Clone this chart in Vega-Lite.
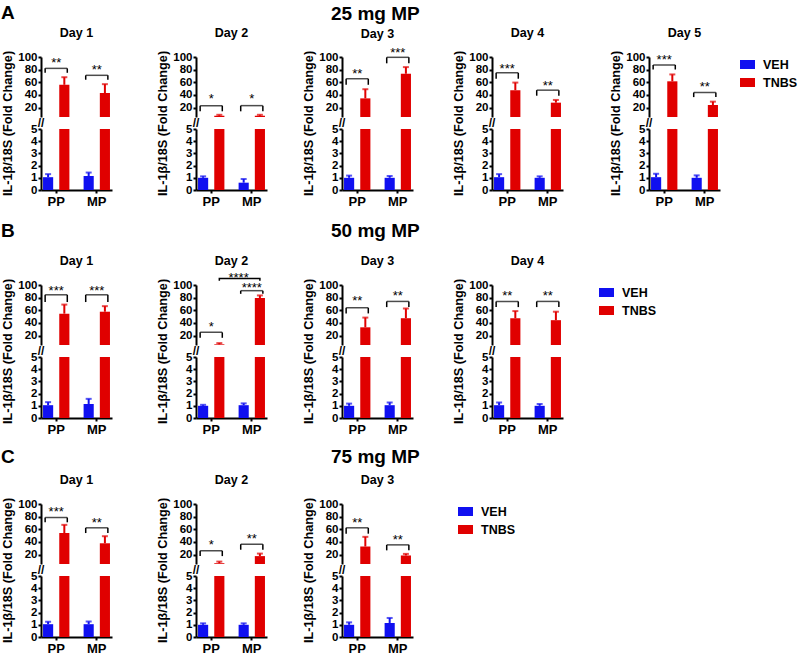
{
"$schema":"https://vega.github.io/schema/vega-lite/v6.json",
"padding":{"left":0,"top":3,"right":0,"bottom":0},
"config":{
 "font":"Liberation Sans",
 "view":{"stroke":null},
 "range":{"category":["#1010f0","#e00000"]},
 "scale":{"bandPaddingInner":0.35,"barBandPaddingInner":0.35,"bandPaddingOuter":0.05,"bandWithNestedOffsetPaddingInner":0.35,"bandWithNestedOffsetPaddingOuter":0.05,"offsetBandPaddingInner":0.375,"offsetBandPaddingOuter":0},
 "axis":{"domainColor":"black","domainWidth":2,"tickColor":"black","tickWidth":2,"tickSize":3,"labelFontSize":11.5,"labelFontWeight":"bold","labelColor":"black","labelOverlap":false,"labelPadding":1,"titleFontSize":12.7,"titleFontWeight":"bold","titleColor":"black","grid":false},
 "axisX":{"labelFontSize":13,"labelPadding":2},
 "title":{"fontSize":12.5,"fontWeight":"bold","color":"black","offset":12,"frame":"group"},
 "legend":{"symbolType":"M-1,-0.6H1V0.6H-1Z","symbolSize":225,"symbolStrokeWidth":0,"labelFontSize":12.5,"labelFontWeight":"bold","labelColor":"black","padding":0,"rowPadding":4,"labelOffset":8}
},
"datasets":{
 "bars":[
  {"p":"A1","c":"PP","g":"VEH","v":1.05,"hi":1.3},{"p":"A1","c":"PP","g":"TNBS","v":56,"hi":68},{"p":"A1","c":"MP","g":"VEH","v":1.15,"hi":1.43},{"p":"A1","c":"MP","g":"TNBS","v":43,"hi":57},
  {"p":"A2","c":"PP","g":"VEH","v":1.0,"hi":1.12},{"p":"A2","c":"PP","g":"TNBS","v":7,"hi":8.5},{"p":"A2","c":"MP","g":"VEH","v":0.6,"hi":0.9},{"p":"A2","c":"MP","g":"TNBS","v":7,"hi":8.5},
  {"p":"A3","c":"PP","g":"VEH","v":1.0,"hi":1.18},{"p":"A3","c":"PP","g":"TNBS","v":34.5,"hi":49},{"p":"A3","c":"MP","g":"VEH","v":1.0,"hi":1.15},{"p":"A3","c":"MP","g":"TNBS","v":73.5,"hi":84},
  {"p":"A4","c":"PP","g":"VEH","v":1.05,"hi":1.3},{"p":"A4","c":"PP","g":"TNBS","v":47.5,"hi":59.5},{"p":"A4","c":"MP","g":"VEH","v":1.0,"hi":1.12},{"p":"A4","c":"MP","g":"TNBS","v":27.7,"hi":32},
  {"p":"A5","c":"PP","g":"VEH","v":1.05,"hi":1.33},{"p":"A5","c":"PP","g":"TNBS","v":61.5,"hi":72.4},{"p":"A5","c":"MP","g":"VEH","v":1.0,"hi":1.2},{"p":"A5","c":"MP","g":"TNBS","v":24,"hi":29.3},
  {"p":"B1","c":"PP","g":"VEH","v":1.05,"hi":1.3},{"p":"B1","c":"PP","g":"TNBS","v":54.6,"hi":69},{"p":"B1","c":"MP","g":"VEH","v":1.15,"hi":1.57},{"p":"B1","c":"MP","g":"TNBS","v":57.7,"hi":66.5},
  {"p":"B2","c":"PP","g":"VEH","v":1.0,"hi":1.08},{"p":"B2","c":"PP","g":"TNBS","v":6,"hi":8},{"p":"B2","c":"MP","g":"VEH","v":1.05,"hi":1.2},{"p":"B2","c":"MP","g":"TNBS","v":79.4,"hi":83.5},
  {"p":"B3","c":"PP","g":"VEH","v":1.0,"hi":1.18},{"p":"B3","c":"PP","g":"TNBS","v":33,"hi":48.4},{"p":"B3","c":"MP","g":"VEH","v":1.05,"hi":1.27},{"p":"B3","c":"MP","g":"TNBS","v":47.4,"hi":62.8},
  {"p":"B4","c":"PP","g":"VEH","v":1.05,"hi":1.27},{"p":"B4","c":"PP","g":"TNBS","v":47.4,"hi":58.7},{"p":"B4","c":"MP","g":"VEH","v":1.0,"hi":1.15},{"p":"B4","c":"MP","g":"TNBS","v":44.3,"hi":57.7},
  {"p":"C1","c":"PP","g":"VEH","v":1.05,"hi":1.25},{"p":"C1","c":"PP","g":"TNBS","v":54,"hi":67},{"p":"C1","c":"MP","g":"VEH","v":1.05,"hi":1.27},{"p":"C1","c":"MP","g":"TNBS","v":37.8,"hi":49},
  {"p":"C2","c":"PP","g":"VEH","v":1.0,"hi":1.12},{"p":"C2","c":"PP","g":"TNBS","v":6.2,"hi":8.8},{"p":"C2","c":"MP","g":"VEH","v":1.0,"hi":1.12},{"p":"C2","c":"MP","g":"TNBS","v":17.5,"hi":21.5},
  {"p":"C3","c":"PP","g":"VEH","v":1.0,"hi":1.2},{"p":"C3","c":"PP","g":"TNBS","v":32.7,"hi":48},{"p":"C3","c":"MP","g":"VEH","v":1.15,"hi":1.56},{"p":"C3","c":"MP","g":"TNBS","v":18.5,"hi":21}
 ],
 "br":[
  {"p":"A1","c":"PP","lo":75,"hi":82,"s":95.8,"t":"**"},{"p":"A1","c":"MP","lo":64,"hi":71,"s":84.9,"t":"**"},
  {"p":"A2","c":"PP","lo":14,"hi":23,"s":38.6,"t":"*"},{"p":"A2","c":"MP","lo":14,"hi":23,"s":38.6,"t":"*"},
  {"p":"A3","c":"PP","lo":56,"hi":65.6,"s":77.6,"t":"**"},{"p":"A3","c":"MP","lo":90,"hi":99.5,"s":111,"t":"***"},
  {"p":"A4","c":"PP","lo":65.6,"hi":75,"s":86,"t":"***"},{"p":"A4","c":"MP","lo":38.7,"hi":47.5,"s":58.4,"t":"**"},
  {"p":"A5","c":"PP","lo":80.2,"hi":87.5,"s":100,"t":"***"},{"p":"A5","c":"MP","lo":36.5,"hi":43.8,"s":57.4,"t":"**"},
  {"p":"B1","c":"PP","lo":73,"hi":84.5,"s":95.9,"t":"***"},{"p":"B1","c":"MP","lo":73,"hi":84.5,"s":95.9,"t":"***"},
  {"p":"B2","c":"PP","lo":16.4,"hi":25,"s":39,"t":"*"},{"p":"B2","c":"MP","lo":86,"hi":91,"s":100,"t":"****"},
  {"p":"B3","c":"PP","lo":55,"hi":64,"s":78.8,"t":"**"},{"p":"B3","c":"MP","lo":65,"hi":74,"s":87.6,"t":"**"},
  {"p":"B4","c":"PP","lo":65,"hi":74,"s":86.6,"t":"**"},{"p":"B4","c":"MP","lo":65,"hi":74,"s":86.6,"t":"**"},
  {"p":"C1","c":"PP","lo":71,"hi":78.6,"s":92.4,"t":"***"},{"p":"C1","c":"MP","lo":54,"hi":62.3,"s":75,"t":"**"},
  {"p":"C2","c":"PP","lo":17.5,"hi":26,"s":39.4,"t":"*"},{"p":"C2","c":"MP","lo":27.6,"hi":36.3,"s":49.6,"t":"**"},
  {"p":"C3","c":"PP","lo":53,"hi":62.3,"s":75,"t":"**"},{"p":"C3","c":"MP","lo":26.6,"hi":35.3,"s":48,"t":"**"}
 ],
 "brk":[{"c":"PP","hi":5}]
},
"spacing":13,
"resolve":{"legend":{"color":"independent"}},
"vconcat":[
{"hconcat":[
 {"hconcat":[
 {"title":{"text":"A","fontSize":19,"anchor":"start","frame":"bounds","offset":4},"bounds":"flush","spacing":12,"resolve":{"legend":{"color":"independent"}},"vconcat":[
  {"width":71,"height":60,"title":{"text":"Day 1"},"layer":[
   {"data":{"name":"bars"},"transform":[{"filter":"datum.p=='A1'"}],"encoding":{"x":{"field":"c","type":"nominal","sort":"descending","axis":null},"xOffset":{"field":"g","type":"nominal","sort":"descending"},"y":{"field":"v","type":"quantitative","scale":{"domain":[5,100],"nice":false,"zero":false},"axis":{"values":[20,40,60,80,100],"title":null}},"color":{"field":"g","type":"nominal","sort":"descending","legend":null}},"layer":[
    {"mark":{"type":"bar","clip":true}},
    {"mark":{"type":"rule","clip":true,"strokeWidth":2},"encoding":{"y2":{"field":"hi"}}},
    {"mark":{"type":"tick","clip":true,"thickness":2},"encoding":{"y":{"field":"hi","type":"quantitative","axis":{"values":[20,40,60,80,100],"title":null}},"size":{"value":6}}}]},
   {"data":{"name":"br"},"transform":[{"filter":"datum.p=='A1'"}],"encoding":{"x":{"field":"c","type":"nominal","sort":"descending","axis":null},"y":{"field":"hi","type":"quantitative","axis":{"values":[20,40,60,80,100],"title":null}},"color":{"value":"black"}},"layer":[
    {"mark":{"type":"tick","thickness":1.5},"encoding":{"size":{"value":22}}},
    {"mark":{"type":"rule","strokeWidth":1.5},"encoding":{"x":{"field":"c","type":"nominal","sort":"descending","bandPosition":0.08,"axis":null},"y2":{"field":"lo"}}},
    {"mark":{"type":"rule","strokeWidth":1.5},"encoding":{"x":{"field":"c","type":"nominal","sort":"descending","bandPosition":0.92,"axis":null},"y2":{"field":"lo"}}},
    {"mark":{"type":"text","fontSize":13,"baseline":"middle","dy":3},"encoding":{"y":{"field":"s","type":"quantitative","axis":{"values":[20,40,60,80,100],"title":null}},"text":{"field":"t"}}},
    {"data":{"name":"brk"},"mark":{"type":"text","text":"//","fontSize":12,"fontWeight":"bold","baseline":"middle","dx":-2,"dy":6},"encoding":{"x":{"field":"c","type":"nominal","sort":"descending","bandPosition":0,"axis":null}}}]}
  ]},
  {"width":71,"height":61,"data":{"name":"bars"},"transform":[{"filter":"datum.p=='A1'"}],"encoding":{"x":{"field":"c","type":"nominal","sort":"descending","axis":{"title":null,"labelAngle":0}},"xOffset":{"field":"g","type":"nominal","sort":"descending"},"y":{"field":"v","type":"quantitative","scale":{"domain":[0,5],"nice":false},"axis":{"values":[0,1,2,3,4,5],"title":"IL-1β/18S (Fold Change)","titleX":-27,"titleY":-6}},"color":{"field":"g","type":"nominal","sort":"descending","legend":null}},"layer":[
    {"mark":{"type":"bar","clip":true}},
    {"mark":{"type":"rule","clip":true,"strokeWidth":2},"encoding":{"y2":{"field":"hi"}}},
    {"mark":{"type":"tick","clip":true,"thickness":2},"encoding":{"y":{"field":"hi","type":"quantitative","axis":{"values":[0,1,2,3,4,5],"title":"IL-1β/18S (Fold Change)","titleX":-27,"titleY":-6}},"size":{"value":6}}}]}
 ]},
 {"title":{"text":" ","fontSize":19,"offset":4,"frame":"bounds"},"bounds":"flush","spacing":12,"resolve":{"legend":{"color":"independent"}},"vconcat":[
  {"width":71,"height":60,"title":{"text":"Day 2"},"layer":[
   {"data":{"name":"bars"},"transform":[{"filter":"datum.p=='A2'"}],"encoding":{"x":{"field":"c","type":"nominal","sort":"descending","axis":null},"xOffset":{"field":"g","type":"nominal","sort":"descending"},"y":{"field":"v","type":"quantitative","scale":{"domain":[5,100],"nice":false,"zero":false},"axis":{"values":[20,40,60,80,100],"title":null}},"color":{"field":"g","type":"nominal","sort":"descending","legend":null}},"layer":[
    {"mark":{"type":"bar","clip":true}},
    {"mark":{"type":"rule","clip":true,"strokeWidth":2},"encoding":{"y2":{"field":"hi"}}},
    {"mark":{"type":"tick","clip":true,"thickness":2},"encoding":{"y":{"field":"hi","type":"quantitative","axis":{"values":[20,40,60,80,100],"title":null}},"size":{"value":6}}}]},
   {"data":{"name":"br"},"transform":[{"filter":"datum.p=='A2'"}],"encoding":{"x":{"field":"c","type":"nominal","sort":"descending","axis":null},"y":{"field":"hi","type":"quantitative","axis":{"values":[20,40,60,80,100],"title":null}},"color":{"value":"black"}},"layer":[
    {"mark":{"type":"tick","thickness":1.5},"encoding":{"size":{"value":22}}},
    {"mark":{"type":"rule","strokeWidth":1.5},"encoding":{"x":{"field":"c","type":"nominal","sort":"descending","bandPosition":0.08,"axis":null},"y2":{"field":"lo"}}},
    {"mark":{"type":"rule","strokeWidth":1.5},"encoding":{"x":{"field":"c","type":"nominal","sort":"descending","bandPosition":0.92,"axis":null},"y2":{"field":"lo"}}},
    {"mark":{"type":"text","fontSize":13,"baseline":"middle","dy":3},"encoding":{"y":{"field":"s","type":"quantitative","axis":{"values":[20,40,60,80,100],"title":null}},"text":{"field":"t"}}},
    {"data":{"name":"brk"},"mark":{"type":"text","text":"//","fontSize":12,"fontWeight":"bold","baseline":"middle","dx":-2,"dy":6},"encoding":{"x":{"field":"c","type":"nominal","sort":"descending","bandPosition":0,"axis":null}}}]}
  ]},
  {"width":71,"height":61,"data":{"name":"bars"},"transform":[{"filter":"datum.p=='A2'"}],"encoding":{"x":{"field":"c","type":"nominal","sort":"descending","axis":{"title":null,"labelAngle":0}},"xOffset":{"field":"g","type":"nominal","sort":"descending"},"y":{"field":"v","type":"quantitative","scale":{"domain":[0,5],"nice":false},"axis":{"values":[0,1,2,3,4,5],"title":"IL-1β/18S (Fold Change)","titleX":-27,"titleY":-6}},"color":{"field":"g","type":"nominal","sort":"descending","legend":null}},"layer":[
    {"mark":{"type":"bar","clip":true}},
    {"mark":{"type":"rule","clip":true,"strokeWidth":2},"encoding":{"y2":{"field":"hi"}}},
    {"mark":{"type":"tick","clip":true,"thickness":2},"encoding":{"y":{"field":"hi","type":"quantitative","axis":{"values":[0,1,2,3,4,5],"title":"IL-1β/18S (Fold Change)","titleX":-27,"titleY":-6}},"size":{"value":6}}}]}
 ]}
 ],"spacing":43,"resolve":{"legend":{"color":"independent"}}},
 {"hconcat":[
 {"title":{"text":"25 mg MP","fontSize":19,"offset":4,"frame":"bounds","anchor":"start","dx":29},"bounds":"flush","spacing":12,"resolve":{"legend":{"color":"independent"}},"vconcat":[
  {"width":71,"height":60,"title":{"text":"Day 3","offset":7},"layer":[
   {"data":{"name":"bars"},"transform":[{"filter":"datum.p=='A3'"}],"encoding":{"x":{"field":"c","type":"nominal","sort":"descending","axis":null},"xOffset":{"field":"g","type":"nominal","sort":"descending"},"y":{"field":"v","type":"quantitative","scale":{"domain":[5,100],"nice":false,"zero":false},"axis":{"values":[20,40,60,80,100],"title":null}},"color":{"field":"g","type":"nominal","sort":"descending","legend":null}},"layer":[
    {"mark":{"type":"bar","clip":true}},
    {"mark":{"type":"rule","clip":true,"strokeWidth":2},"encoding":{"y2":{"field":"hi"}}},
    {"mark":{"type":"tick","clip":true,"thickness":2},"encoding":{"y":{"field":"hi","type":"quantitative","axis":{"values":[20,40,60,80,100],"title":null}},"size":{"value":6}}}]},
   {"data":{"name":"br"},"transform":[{"filter":"datum.p=='A3'"}],"encoding":{"x":{"field":"c","type":"nominal","sort":"descending","axis":null},"y":{"field":"hi","type":"quantitative","axis":{"values":[20,40,60,80,100],"title":null}},"color":{"value":"black"}},"layer":[
    {"mark":{"type":"tick","thickness":1.5},"encoding":{"size":{"value":22}}},
    {"mark":{"type":"rule","strokeWidth":1.5},"encoding":{"x":{"field":"c","type":"nominal","sort":"descending","bandPosition":0.08,"axis":null},"y2":{"field":"lo"}}},
    {"mark":{"type":"rule","strokeWidth":1.5},"encoding":{"x":{"field":"c","type":"nominal","sort":"descending","bandPosition":0.92,"axis":null},"y2":{"field":"lo"}}},
    {"mark":{"type":"text","fontSize":13,"baseline":"middle","dy":3},"encoding":{"y":{"field":"s","type":"quantitative","axis":{"values":[20,40,60,80,100],"title":null}},"text":{"field":"t"}}},
    {"data":{"name":"brk"},"mark":{"type":"text","text":"//","fontSize":12,"fontWeight":"bold","baseline":"middle","dx":-2,"dy":6},"encoding":{"x":{"field":"c","type":"nominal","sort":"descending","bandPosition":0,"axis":null}}}]}
  ]},
  {"width":71,"height":61,"data":{"name":"bars"},"transform":[{"filter":"datum.p=='A3'"}],"encoding":{"x":{"field":"c","type":"nominal","sort":"descending","axis":{"title":null,"labelAngle":0}},"xOffset":{"field":"g","type":"nominal","sort":"descending"},"y":{"field":"v","type":"quantitative","scale":{"domain":[0,5],"nice":false},"axis":{"values":[0,1,2,3,4,5],"title":"IL-1β/18S (Fold Change)","titleX":-27,"titleY":-6}},"color":{"field":"g","type":"nominal","sort":"descending","legend":null}},"layer":[
    {"mark":{"type":"bar","clip":true}},
    {"mark":{"type":"rule","clip":true,"strokeWidth":2},"encoding":{"y2":{"field":"hi"}}},
    {"mark":{"type":"tick","clip":true,"thickness":2},"encoding":{"y":{"field":"hi","type":"quantitative","axis":{"values":[0,1,2,3,4,5],"title":"IL-1β/18S (Fold Change)","titleX":-27,"titleY":-6}},"size":{"value":6}}}]}
 ]},
 {"hconcat":[
 {"title":{"text":" ","fontSize":19,"offset":4,"frame":"bounds"},"bounds":"flush","spacing":12,"resolve":{"legend":{"color":"independent"}},"vconcat":[
  {"width":71,"height":60,"title":{"text":"Day 4"},"layer":[
   {"data":{"name":"bars"},"transform":[{"filter":"datum.p=='A4'"}],"encoding":{"x":{"field":"c","type":"nominal","sort":"descending","axis":null},"xOffset":{"field":"g","type":"nominal","sort":"descending"},"y":{"field":"v","type":"quantitative","scale":{"domain":[5,100],"nice":false,"zero":false},"axis":{"values":[20,40,60,80,100],"title":null}},"color":{"field":"g","type":"nominal","sort":"descending","legend":null}},"layer":[
    {"mark":{"type":"bar","clip":true}},
    {"mark":{"type":"rule","clip":true,"strokeWidth":2},"encoding":{"y2":{"field":"hi"}}},
    {"mark":{"type":"tick","clip":true,"thickness":2},"encoding":{"y":{"field":"hi","type":"quantitative","axis":{"values":[20,40,60,80,100],"title":null}},"size":{"value":6}}}]},
   {"data":{"name":"br"},"transform":[{"filter":"datum.p=='A4'"}],"encoding":{"x":{"field":"c","type":"nominal","sort":"descending","axis":null},"y":{"field":"hi","type":"quantitative","axis":{"values":[20,40,60,80,100],"title":null}},"color":{"value":"black"}},"layer":[
    {"mark":{"type":"tick","thickness":1.5},"encoding":{"size":{"value":22}}},
    {"mark":{"type":"rule","strokeWidth":1.5},"encoding":{"x":{"field":"c","type":"nominal","sort":"descending","bandPosition":0.08,"axis":null},"y2":{"field":"lo"}}},
    {"mark":{"type":"rule","strokeWidth":1.5},"encoding":{"x":{"field":"c","type":"nominal","sort":"descending","bandPosition":0.92,"axis":null},"y2":{"field":"lo"}}},
    {"mark":{"type":"text","fontSize":13,"baseline":"middle","dy":3},"encoding":{"y":{"field":"s","type":"quantitative","axis":{"values":[20,40,60,80,100],"title":null}},"text":{"field":"t"}}},
    {"data":{"name":"brk"},"mark":{"type":"text","text":"//","fontSize":12,"fontWeight":"bold","baseline":"middle","dx":-2,"dy":6},"encoding":{"x":{"field":"c","type":"nominal","sort":"descending","bandPosition":0,"axis":null}}}]}
  ]},
  {"width":71,"height":61,"data":{"name":"bars"},"transform":[{"filter":"datum.p=='A4'"}],"encoding":{"x":{"field":"c","type":"nominal","sort":"descending","axis":{"title":null,"labelAngle":0}},"xOffset":{"field":"g","type":"nominal","sort":"descending"},"y":{"field":"v","type":"quantitative","scale":{"domain":[0,5],"nice":false},"axis":{"values":[0,1,2,3,4,5],"title":"IL-1β/18S (Fold Change)","titleX":-27,"titleY":-6}},"color":{"field":"g","type":"nominal","sort":"descending","legend":null}},"layer":[
    {"mark":{"type":"bar","clip":true}},
    {"mark":{"type":"rule","clip":true,"strokeWidth":2},"encoding":{"y2":{"field":"hi"}}},
    {"mark":{"type":"tick","clip":true,"thickness":2},"encoding":{"y":{"field":"hi","type":"quantitative","axis":{"values":[0,1,2,3,4,5],"title":"IL-1β/18S (Fold Change)","titleX":-27,"titleY":-6}},"size":{"value":6}}}]}
 ]},
 {"title":{"text":" ","fontSize":19,"offset":4,"frame":"bounds"},"bounds":"flush","spacing":12,"resolve":{"legend":{"color":"independent"}},"vconcat":[
  {"width":71,"height":60,"title":{"text":"Day 5"},"layer":[
   {"data":{"name":"bars"},"transform":[{"filter":"datum.p=='A5'"}],"encoding":{"x":{"field":"c","type":"nominal","sort":"descending","axis":null},"xOffset":{"field":"g","type":"nominal","sort":"descending"},"y":{"field":"v","type":"quantitative","scale":{"domain":[5,100],"nice":false,"zero":false},"axis":{"values":[20,40,60,80,100],"title":null}},"color":{"field":"g","type":"nominal","sort":"descending","legend":{"title":null,"orient":"right","offset":20}}},"layer":[
    {"mark":{"type":"bar","clip":true}},
    {"mark":{"type":"rule","clip":true,"strokeWidth":2},"encoding":{"y2":{"field":"hi"},"color":{"field":"g","type":"nominal","sort":"descending","legend":null}}},
    {"mark":{"type":"tick","clip":true,"thickness":2},"encoding":{"y":{"field":"hi","type":"quantitative","axis":{"values":[20,40,60,80,100],"title":null}},"size":{"value":6},"color":{"field":"g","type":"nominal","sort":"descending","legend":null}}}]},
   {"data":{"name":"br"},"transform":[{"filter":"datum.p=='A5'"}],"encoding":{"x":{"field":"c","type":"nominal","sort":"descending","axis":null},"y":{"field":"hi","type":"quantitative","axis":{"values":[20,40,60,80,100],"title":null}},"color":{"value":"black"}},"layer":[
    {"mark":{"type":"tick","thickness":1.5},"encoding":{"size":{"value":22}}},
    {"mark":{"type":"rule","strokeWidth":1.5},"encoding":{"x":{"field":"c","type":"nominal","sort":"descending","bandPosition":0.08,"axis":null},"y2":{"field":"lo"}}},
    {"mark":{"type":"rule","strokeWidth":1.5},"encoding":{"x":{"field":"c","type":"nominal","sort":"descending","bandPosition":0.92,"axis":null},"y2":{"field":"lo"}}},
    {"mark":{"type":"text","fontSize":13,"baseline":"middle","dy":3},"encoding":{"y":{"field":"s","type":"quantitative","axis":{"values":[20,40,60,80,100],"title":null}},"text":{"field":"t"}}},
    {"data":{"name":"brk"},"mark":{"type":"text","text":"//","fontSize":12,"fontWeight":"bold","baseline":"middle","dx":-2,"dy":6},"encoding":{"x":{"field":"c","type":"nominal","sort":"descending","bandPosition":0,"axis":null}}}]}
  ]},
  {"width":71,"height":61,"data":{"name":"bars"},"transform":[{"filter":"datum.p=='A5'"}],"encoding":{"x":{"field":"c","type":"nominal","sort":"descending","axis":{"title":null,"labelAngle":0}},"xOffset":{"field":"g","type":"nominal","sort":"descending"},"y":{"field":"v","type":"quantitative","scale":{"domain":[0,5],"nice":false},"axis":{"values":[0,1,2,3,4,5],"title":"IL-1β/18S (Fold Change)","titleX":-27,"titleY":-6}},"color":{"field":"g","type":"nominal","sort":"descending","legend":null}},"layer":[
    {"mark":{"type":"bar","clip":true}},
    {"mark":{"type":"rule","clip":true,"strokeWidth":2},"encoding":{"y2":{"field":"hi"}}},
    {"mark":{"type":"tick","clip":true,"thickness":2},"encoding":{"y":{"field":"hi","type":"quantitative","axis":{"values":[0,1,2,3,4,5],"title":"IL-1β/18S (Fold Change)","titleX":-27,"titleY":-6}},"size":{"value":6}}}]}
 ]}
 ],"spacing":45,"resolve":{"legend":{"color":"independent"}}}
 ],"spacing":31,"resolve":{"legend":{"color":"independent"}}}
],"spacing":34,"resolve":{"legend":{"color":"independent"}}},
{"spacing":11,"resolve":{"legend":{"color":"independent"}},"vconcat":[
{"hconcat":[
 {"hconcat":[
 {"title":{"text":"B","fontSize":19,"anchor":"start","frame":"bounds","offset":14},"bounds":"flush","spacing":12,"resolve":{"legend":{"color":"independent"}},"vconcat":[
  {"width":71,"height":60,"title":{"text":"Day 1"},"layer":[
   {"data":{"name":"bars"},"transform":[{"filter":"datum.p=='B1'"}],"encoding":{"x":{"field":"c","type":"nominal","sort":"descending","axis":null},"xOffset":{"field":"g","type":"nominal","sort":"descending"},"y":{"field":"v","type":"quantitative","scale":{"domain":[5,100],"nice":false,"zero":false},"axis":{"values":[20,40,60,80,100],"title":null}},"color":{"field":"g","type":"nominal","sort":"descending","legend":null}},"layer":[
    {"mark":{"type":"bar","clip":true}},
    {"mark":{"type":"rule","clip":true,"strokeWidth":2},"encoding":{"y2":{"field":"hi"}}},
    {"mark":{"type":"tick","clip":true,"thickness":2},"encoding":{"y":{"field":"hi","type":"quantitative","axis":{"values":[20,40,60,80,100],"title":null}},"size":{"value":6}}}]},
   {"data":{"name":"br"},"transform":[{"filter":"datum.p=='B1'"}],"encoding":{"x":{"field":"c","type":"nominal","sort":"descending","axis":null},"y":{"field":"hi","type":"quantitative","axis":{"values":[20,40,60,80,100],"title":null}},"color":{"value":"black"}},"layer":[
    {"mark":{"type":"tick","thickness":1.5},"encoding":{"size":{"value":22}}},
    {"mark":{"type":"rule","strokeWidth":1.5},"encoding":{"x":{"field":"c","type":"nominal","sort":"descending","bandPosition":0.08,"axis":null},"y2":{"field":"lo"}}},
    {"mark":{"type":"rule","strokeWidth":1.5},"encoding":{"x":{"field":"c","type":"nominal","sort":"descending","bandPosition":0.92,"axis":null},"y2":{"field":"lo"}}},
    {"mark":{"type":"text","fontSize":13,"baseline":"middle","dy":3},"encoding":{"y":{"field":"s","type":"quantitative","axis":{"values":[20,40,60,80,100],"title":null}},"text":{"field":"t"}}},
    {"data":{"name":"brk"},"mark":{"type":"text","text":"//","fontSize":12,"fontWeight":"bold","baseline":"middle","dx":-2,"dy":6},"encoding":{"x":{"field":"c","type":"nominal","sort":"descending","bandPosition":0,"axis":null}}}]}
  ]},
  {"width":71,"height":61,"data":{"name":"bars"},"transform":[{"filter":"datum.p=='B1'"}],"encoding":{"x":{"field":"c","type":"nominal","sort":"descending","axis":{"title":null,"labelAngle":0}},"xOffset":{"field":"g","type":"nominal","sort":"descending"},"y":{"field":"v","type":"quantitative","scale":{"domain":[0,5],"nice":false},"axis":{"values":[0,1,2,3,4,5],"title":"IL-1β/18S (Fold Change)","titleX":-27,"titleY":-6}},"color":{"field":"g","type":"nominal","sort":"descending","legend":null}},"layer":[
    {"mark":{"type":"bar","clip":true}},
    {"mark":{"type":"rule","clip":true,"strokeWidth":2},"encoding":{"y2":{"field":"hi"}}},
    {"mark":{"type":"tick","clip":true,"thickness":2},"encoding":{"y":{"field":"hi","type":"quantitative","axis":{"values":[0,1,2,3,4,5],"title":"IL-1β/18S (Fold Change)","titleX":-27,"titleY":-6}},"size":{"value":6}}}]}
 ]},
 {"title":{"text":" ","fontSize":19,"offset":14,"frame":"bounds"},"bounds":"flush","spacing":12,"resolve":{"legend":{"color":"independent"}},"vconcat":[
  {"width":71,"height":60,"title":{"text":"Day 2","offset":5},"layer":[
   {"data":{"name":"bars"},"transform":[{"filter":"datum.p=='B2'"}],"encoding":{"x":{"field":"c","type":"nominal","sort":"descending","axis":null},"xOffset":{"field":"g","type":"nominal","sort":"descending"},"y":{"field":"v","type":"quantitative","scale":{"domain":[5,100],"nice":false,"zero":false},"axis":{"values":[20,40,60,80,100],"title":null}},"color":{"field":"g","type":"nominal","sort":"descending","legend":null}},"layer":[
    {"mark":{"type":"bar","clip":true}},
    {"mark":{"type":"rule","clip":true,"strokeWidth":2},"encoding":{"y2":{"field":"hi"}}},
    {"mark":{"type":"tick","clip":true,"thickness":2},"encoding":{"y":{"field":"hi","type":"quantitative","axis":{"values":[20,40,60,80,100],"title":null}},"size":{"value":6}}}]},
   {"data":{"name":"br"},"transform":[{"filter":"datum.p=='B2'"}],"encoding":{"x":{"field":"c","type":"nominal","sort":"descending","axis":null},"y":{"field":"hi","type":"quantitative","axis":{"values":[20,40,60,80,100],"title":null}},"color":{"value":"black"}},"layer":[
    {"mark":{"type":"tick","thickness":1.5},"encoding":{"size":{"value":22}}},
    {"mark":{"type":"rule","strokeWidth":1.5},"encoding":{"x":{"field":"c","type":"nominal","sort":"descending","bandPosition":0.08,"axis":null},"y2":{"field":"lo"}}},
    {"mark":{"type":"rule","strokeWidth":1.5},"encoding":{"x":{"field":"c","type":"nominal","sort":"descending","bandPosition":0.92,"axis":null},"y2":{"field":"lo"}}},
    {"mark":{"type":"text","fontSize":13,"baseline":"middle","dy":3},"encoding":{"y":{"field":"s","type":"quantitative","axis":{"values":[20,40,60,80,100],"title":null}},"text":{"field":"t"}}},
    {"data":{"name":"brk"},"mark":{"type":"text","text":"//","fontSize":12,"fontWeight":"bold","baseline":"middle","dx":-2,"dy":6},"encoding":{"x":{"field":"c","type":"nominal","sort":"descending","bandPosition":0,"axis":null}}}]},
   {"data":{"values":[{"c":"PP","g":"TNBS","v":106.7,"o":1},{"c":"PP","g":"TNBS","v":110.3,"o":2},{"c":"MP","g":"TNBS","v":110.3,"o":3},{"c":"MP","g":"TNBS","v":106.7,"o":4}]},"mark":{"type":"line","color":"black","strokeWidth":1.5},"encoding":{"x":{"field":"c","type":"nominal","sort":"descending","axis":null},"xOffset":{"field":"g","type":"nominal","sort":"descending"},"y":{"field":"v","type":"quantitative","axis":{"values":[20,40,60,80,100],"title":null}},"order":{"field":"o"}}},
   {"data":{"values":[{"c":"MP","s":115.5,"t":"****"}]},"mark":{"type":"text","fontSize":13,"baseline":"middle","dy":3,"color":"black"},"encoding":{"x":{"field":"c","type":"nominal","sort":"descending","bandPosition":0,"axis":null},"y":{"field":"s","type":"quantitative","axis":{"values":[20,40,60,80,100],"title":null}},"text":{"field":"t"}}}
  ]},
  {"width":71,"height":61,"data":{"name":"bars"},"transform":[{"filter":"datum.p=='B2'"}],"encoding":{"x":{"field":"c","type":"nominal","sort":"descending","axis":{"title":null,"labelAngle":0}},"xOffset":{"field":"g","type":"nominal","sort":"descending"},"y":{"field":"v","type":"quantitative","scale":{"domain":[0,5],"nice":false},"axis":{"values":[0,1,2,3,4,5],"title":"IL-1β/18S (Fold Change)","titleX":-27,"titleY":-6}},"color":{"field":"g","type":"nominal","sort":"descending","legend":null}},"layer":[
    {"mark":{"type":"bar","clip":true}},
    {"mark":{"type":"rule","clip":true,"strokeWidth":2},"encoding":{"y2":{"field":"hi"}}},
    {"mark":{"type":"tick","clip":true,"thickness":2},"encoding":{"y":{"field":"hi","type":"quantitative","axis":{"values":[0,1,2,3,4,5],"title":"IL-1β/18S (Fold Change)","titleX":-27,"titleY":-6}},"size":{"value":6}}}]}
 ]}
 ],"spacing":43,"resolve":{"legend":{"color":"independent"}}},
 {"hconcat":[
 {"title":{"text":"50 mg MP","fontSize":19,"offset":14,"frame":"bounds","anchor":"start","dx":29},"bounds":"flush","spacing":12,"resolve":{"legend":{"color":"independent"}},"vconcat":[
  {"width":71,"height":60,"title":{"text":"Day 3"},"layer":[
   {"data":{"name":"bars"},"transform":[{"filter":"datum.p=='B3'"}],"encoding":{"x":{"field":"c","type":"nominal","sort":"descending","axis":null},"xOffset":{"field":"g","type":"nominal","sort":"descending"},"y":{"field":"v","type":"quantitative","scale":{"domain":[5,100],"nice":false,"zero":false},"axis":{"values":[20,40,60,80,100],"title":null}},"color":{"field":"g","type":"nominal","sort":"descending","legend":null}},"layer":[
    {"mark":{"type":"bar","clip":true}},
    {"mark":{"type":"rule","clip":true,"strokeWidth":2},"encoding":{"y2":{"field":"hi"}}},
    {"mark":{"type":"tick","clip":true,"thickness":2},"encoding":{"y":{"field":"hi","type":"quantitative","axis":{"values":[20,40,60,80,100],"title":null}},"size":{"value":6}}}]},
   {"data":{"name":"br"},"transform":[{"filter":"datum.p=='B3'"}],"encoding":{"x":{"field":"c","type":"nominal","sort":"descending","axis":null},"y":{"field":"hi","type":"quantitative","axis":{"values":[20,40,60,80,100],"title":null}},"color":{"value":"black"}},"layer":[
    {"mark":{"type":"tick","thickness":1.5},"encoding":{"size":{"value":22}}},
    {"mark":{"type":"rule","strokeWidth":1.5},"encoding":{"x":{"field":"c","type":"nominal","sort":"descending","bandPosition":0.08,"axis":null},"y2":{"field":"lo"}}},
    {"mark":{"type":"rule","strokeWidth":1.5},"encoding":{"x":{"field":"c","type":"nominal","sort":"descending","bandPosition":0.92,"axis":null},"y2":{"field":"lo"}}},
    {"mark":{"type":"text","fontSize":13,"baseline":"middle","dy":3},"encoding":{"y":{"field":"s","type":"quantitative","axis":{"values":[20,40,60,80,100],"title":null}},"text":{"field":"t"}}},
    {"data":{"name":"brk"},"mark":{"type":"text","text":"//","fontSize":12,"fontWeight":"bold","baseline":"middle","dx":-2,"dy":6},"encoding":{"x":{"field":"c","type":"nominal","sort":"descending","bandPosition":0,"axis":null}}}]}
  ]},
  {"width":71,"height":61,"data":{"name":"bars"},"transform":[{"filter":"datum.p=='B3'"}],"encoding":{"x":{"field":"c","type":"nominal","sort":"descending","axis":{"title":null,"labelAngle":0}},"xOffset":{"field":"g","type":"nominal","sort":"descending"},"y":{"field":"v","type":"quantitative","scale":{"domain":[0,5],"nice":false},"axis":{"values":[0,1,2,3,4,5],"title":"IL-1β/18S (Fold Change)","titleX":-27,"titleY":-6}},"color":{"field":"g","type":"nominal","sort":"descending","legend":null}},"layer":[
    {"mark":{"type":"bar","clip":true}},
    {"mark":{"type":"rule","clip":true,"strokeWidth":2},"encoding":{"y2":{"field":"hi"}}},
    {"mark":{"type":"tick","clip":true,"thickness":2},"encoding":{"y":{"field":"hi","type":"quantitative","axis":{"values":[0,1,2,3,4,5],"title":"IL-1β/18S (Fold Change)","titleX":-27,"titleY":-6}},"size":{"value":6}}}]}
 ]},
 {"title":{"text":" ","fontSize":19,"offset":14,"frame":"bounds"},"bounds":"flush","spacing":12,"resolve":{"legend":{"color":"independent"}},"vconcat":[
  {"width":71,"height":60,"title":{"text":"Day 4"},"layer":[
   {"data":{"name":"bars"},"transform":[{"filter":"datum.p=='B4'"}],"encoding":{"x":{"field":"c","type":"nominal","sort":"descending","axis":null},"xOffset":{"field":"g","type":"nominal","sort":"descending"},"y":{"field":"v","type":"quantitative","scale":{"domain":[5,100],"nice":false,"zero":false},"axis":{"values":[20,40,60,80,100],"title":null}},"color":{"field":"g","type":"nominal","sort":"descending","legend":{"title":null,"orient":"right","offset":36}}},"layer":[
    {"mark":{"type":"bar","clip":true}},
    {"mark":{"type":"rule","clip":true,"strokeWidth":2},"encoding":{"y2":{"field":"hi"},"color":{"field":"g","type":"nominal","sort":"descending","legend":null}}},
    {"mark":{"type":"tick","clip":true,"thickness":2},"encoding":{"y":{"field":"hi","type":"quantitative","axis":{"values":[20,40,60,80,100],"title":null}},"size":{"value":6},"color":{"field":"g","type":"nominal","sort":"descending","legend":null}}}]},
   {"data":{"name":"br"},"transform":[{"filter":"datum.p=='B4'"}],"encoding":{"x":{"field":"c","type":"nominal","sort":"descending","axis":null},"y":{"field":"hi","type":"quantitative","axis":{"values":[20,40,60,80,100],"title":null}},"color":{"value":"black"}},"layer":[
    {"mark":{"type":"tick","thickness":1.5},"encoding":{"size":{"value":22}}},
    {"mark":{"type":"rule","strokeWidth":1.5},"encoding":{"x":{"field":"c","type":"nominal","sort":"descending","bandPosition":0.08,"axis":null},"y2":{"field":"lo"}}},
    {"mark":{"type":"rule","strokeWidth":1.5},"encoding":{"x":{"field":"c","type":"nominal","sort":"descending","bandPosition":0.92,"axis":null},"y2":{"field":"lo"}}},
    {"mark":{"type":"text","fontSize":13,"baseline":"middle","dy":3},"encoding":{"y":{"field":"s","type":"quantitative","axis":{"values":[20,40,60,80,100],"title":null}},"text":{"field":"t"}}},
    {"data":{"name":"brk"},"mark":{"type":"text","text":"//","fontSize":12,"fontWeight":"bold","baseline":"middle","dx":-2,"dy":6},"encoding":{"x":{"field":"c","type":"nominal","sort":"descending","bandPosition":0,"axis":null}}}]}
  ]},
  {"width":71,"height":61,"data":{"name":"bars"},"transform":[{"filter":"datum.p=='B4'"}],"encoding":{"x":{"field":"c","type":"nominal","sort":"descending","axis":{"title":null,"labelAngle":0}},"xOffset":{"field":"g","type":"nominal","sort":"descending"},"y":{"field":"v","type":"quantitative","scale":{"domain":[0,5],"nice":false},"axis":{"values":[0,1,2,3,4,5],"title":"IL-1β/18S (Fold Change)","titleX":-27,"titleY":-6}},"color":{"field":"g","type":"nominal","sort":"descending","legend":null}},"layer":[
    {"mark":{"type":"bar","clip":true}},
    {"mark":{"type":"rule","clip":true,"strokeWidth":2},"encoding":{"y2":{"field":"hi"}}},
    {"mark":{"type":"tick","clip":true,"thickness":2},"encoding":{"y":{"field":"hi","type":"quantitative","axis":{"values":[0,1,2,3,4,5],"title":"IL-1β/18S (Fold Change)","titleX":-27,"titleY":-6}},"size":{"value":6}}}]}
 ]}
 ],"spacing":31,"resolve":{"legend":{"color":"independent"}}}
],"spacing":34,"resolve":{"legend":{"color":"independent"}}},
{"hconcat":[
 {"hconcat":[
 {"title":{"text":"C","fontSize":19,"anchor":"start","frame":"bounds","offset":7},"bounds":"flush","spacing":12,"resolve":{"legend":{"color":"independent"}},"vconcat":[
  {"width":71,"height":60,"title":{"text":"Day 1"},"layer":[
   {"data":{"name":"bars"},"transform":[{"filter":"datum.p=='C1'"}],"encoding":{"x":{"field":"c","type":"nominal","sort":"descending","axis":null},"xOffset":{"field":"g","type":"nominal","sort":"descending"},"y":{"field":"v","type":"quantitative","scale":{"domain":[5,100],"nice":false,"zero":false},"axis":{"values":[20,40,60,80,100],"title":null}},"color":{"field":"g","type":"nominal","sort":"descending","legend":null}},"layer":[
    {"mark":{"type":"bar","clip":true}},
    {"mark":{"type":"rule","clip":true,"strokeWidth":2},"encoding":{"y2":{"field":"hi"}}},
    {"mark":{"type":"tick","clip":true,"thickness":2},"encoding":{"y":{"field":"hi","type":"quantitative","axis":{"values":[20,40,60,80,100],"title":null}},"size":{"value":6}}}]},
   {"data":{"name":"br"},"transform":[{"filter":"datum.p=='C1'"}],"encoding":{"x":{"field":"c","type":"nominal","sort":"descending","axis":null},"y":{"field":"hi","type":"quantitative","axis":{"values":[20,40,60,80,100],"title":null}},"color":{"value":"black"}},"layer":[
    {"mark":{"type":"tick","thickness":1.5},"encoding":{"size":{"value":22}}},
    {"mark":{"type":"rule","strokeWidth":1.5},"encoding":{"x":{"field":"c","type":"nominal","sort":"descending","bandPosition":0.08,"axis":null},"y2":{"field":"lo"}}},
    {"mark":{"type":"rule","strokeWidth":1.5},"encoding":{"x":{"field":"c","type":"nominal","sort":"descending","bandPosition":0.92,"axis":null},"y2":{"field":"lo"}}},
    {"mark":{"type":"text","fontSize":13,"baseline":"middle","dy":3},"encoding":{"y":{"field":"s","type":"quantitative","axis":{"values":[20,40,60,80,100],"title":null}},"text":{"field":"t"}}},
    {"data":{"name":"brk"},"mark":{"type":"text","text":"//","fontSize":12,"fontWeight":"bold","baseline":"middle","dx":-2,"dy":6},"encoding":{"x":{"field":"c","type":"nominal","sort":"descending","bandPosition":0,"axis":null}}}]}
  ]},
  {"width":71,"height":61,"data":{"name":"bars"},"transform":[{"filter":"datum.p=='C1'"}],"encoding":{"x":{"field":"c","type":"nominal","sort":"descending","axis":{"title":null,"labelAngle":0}},"xOffset":{"field":"g","type":"nominal","sort":"descending"},"y":{"field":"v","type":"quantitative","scale":{"domain":[0,5],"nice":false},"axis":{"values":[0,1,2,3,4,5],"title":"IL-1β/18S (Fold Change)","titleX":-27,"titleY":-6}},"color":{"field":"g","type":"nominal","sort":"descending","legend":null}},"layer":[
    {"mark":{"type":"bar","clip":true}},
    {"mark":{"type":"rule","clip":true,"strokeWidth":2},"encoding":{"y2":{"field":"hi"}}},
    {"mark":{"type":"tick","clip":true,"thickness":2},"encoding":{"y":{"field":"hi","type":"quantitative","axis":{"values":[0,1,2,3,4,5],"title":"IL-1β/18S (Fold Change)","titleX":-27,"titleY":-6}},"size":{"value":6}}}]}
 ]},
 {"title":{"text":" ","fontSize":19,"offset":7,"frame":"bounds"},"bounds":"flush","spacing":12,"resolve":{"legend":{"color":"independent"}},"vconcat":[
  {"width":71,"height":60,"title":{"text":"Day 2"},"layer":[
   {"data":{"name":"bars"},"transform":[{"filter":"datum.p=='C2'"}],"encoding":{"x":{"field":"c","type":"nominal","sort":"descending","axis":null},"xOffset":{"field":"g","type":"nominal","sort":"descending"},"y":{"field":"v","type":"quantitative","scale":{"domain":[5,100],"nice":false,"zero":false},"axis":{"values":[20,40,60,80,100],"title":null}},"color":{"field":"g","type":"nominal","sort":"descending","legend":null}},"layer":[
    {"mark":{"type":"bar","clip":true}},
    {"mark":{"type":"rule","clip":true,"strokeWidth":2},"encoding":{"y2":{"field":"hi"}}},
    {"mark":{"type":"tick","clip":true,"thickness":2},"encoding":{"y":{"field":"hi","type":"quantitative","axis":{"values":[20,40,60,80,100],"title":null}},"size":{"value":6}}}]},
   {"data":{"name":"br"},"transform":[{"filter":"datum.p=='C2'"}],"encoding":{"x":{"field":"c","type":"nominal","sort":"descending","axis":null},"y":{"field":"hi","type":"quantitative","axis":{"values":[20,40,60,80,100],"title":null}},"color":{"value":"black"}},"layer":[
    {"mark":{"type":"tick","thickness":1.5},"encoding":{"size":{"value":22}}},
    {"mark":{"type":"rule","strokeWidth":1.5},"encoding":{"x":{"field":"c","type":"nominal","sort":"descending","bandPosition":0.08,"axis":null},"y2":{"field":"lo"}}},
    {"mark":{"type":"rule","strokeWidth":1.5},"encoding":{"x":{"field":"c","type":"nominal","sort":"descending","bandPosition":0.92,"axis":null},"y2":{"field":"lo"}}},
    {"mark":{"type":"text","fontSize":13,"baseline":"middle","dy":3},"encoding":{"y":{"field":"s","type":"quantitative","axis":{"values":[20,40,60,80,100],"title":null}},"text":{"field":"t"}}},
    {"data":{"name":"brk"},"mark":{"type":"text","text":"//","fontSize":12,"fontWeight":"bold","baseline":"middle","dx":-2,"dy":6},"encoding":{"x":{"field":"c","type":"nominal","sort":"descending","bandPosition":0,"axis":null}}}]}
  ]},
  {"width":71,"height":61,"data":{"name":"bars"},"transform":[{"filter":"datum.p=='C2'"}],"encoding":{"x":{"field":"c","type":"nominal","sort":"descending","axis":{"title":null,"labelAngle":0}},"xOffset":{"field":"g","type":"nominal","sort":"descending"},"y":{"field":"v","type":"quantitative","scale":{"domain":[0,5],"nice":false},"axis":{"values":[0,1,2,3,4,5],"title":"IL-1β/18S (Fold Change)","titleX":-27,"titleY":-6}},"color":{"field":"g","type":"nominal","sort":"descending","legend":null}},"layer":[
    {"mark":{"type":"bar","clip":true}},
    {"mark":{"type":"rule","clip":true,"strokeWidth":2},"encoding":{"y2":{"field":"hi"}}},
    {"mark":{"type":"tick","clip":true,"thickness":2},"encoding":{"y":{"field":"hi","type":"quantitative","axis":{"values":[0,1,2,3,4,5],"title":"IL-1β/18S (Fold Change)","titleX":-27,"titleY":-6}},"size":{"value":6}}}]}
 ]}
 ],"spacing":43,"resolve":{"legend":{"color":"independent"}}},
 {"title":{"text":"75 mg MP","fontSize":19,"offset":7,"frame":"bounds","anchor":"start","dx":29},"bounds":"flush","spacing":12,"resolve":{"legend":{"color":"independent"}},"vconcat":[
  {"width":71,"height":60,"title":{"text":"Day 3"},"layer":[
   {"data":{"name":"bars"},"transform":[{"filter":"datum.p=='C3'"}],"encoding":{"x":{"field":"c","type":"nominal","sort":"descending","axis":null},"xOffset":{"field":"g","type":"nominal","sort":"descending"},"y":{"field":"v","type":"quantitative","scale":{"domain":[5,100],"nice":false,"zero":false},"axis":{"values":[20,40,60,80,100],"title":null}},"color":{"field":"g","type":"nominal","sort":"descending","legend":{"title":null,"orient":"right","offset":45}}},"layer":[
    {"mark":{"type":"bar","clip":true}},
    {"mark":{"type":"rule","clip":true,"strokeWidth":2},"encoding":{"y2":{"field":"hi"},"color":{"field":"g","type":"nominal","sort":"descending","legend":null}}},
    {"mark":{"type":"tick","clip":true,"thickness":2},"encoding":{"y":{"field":"hi","type":"quantitative","axis":{"values":[20,40,60,80,100],"title":null}},"size":{"value":6},"color":{"field":"g","type":"nominal","sort":"descending","legend":null}}}]},
   {"data":{"name":"br"},"transform":[{"filter":"datum.p=='C3'"}],"encoding":{"x":{"field":"c","type":"nominal","sort":"descending","axis":null},"y":{"field":"hi","type":"quantitative","axis":{"values":[20,40,60,80,100],"title":null}},"color":{"value":"black"}},"layer":[
    {"mark":{"type":"tick","thickness":1.5},"encoding":{"size":{"value":22}}},
    {"mark":{"type":"rule","strokeWidth":1.5},"encoding":{"x":{"field":"c","type":"nominal","sort":"descending","bandPosition":0.08,"axis":null},"y2":{"field":"lo"}}},
    {"mark":{"type":"rule","strokeWidth":1.5},"encoding":{"x":{"field":"c","type":"nominal","sort":"descending","bandPosition":0.92,"axis":null},"y2":{"field":"lo"}}},
    {"mark":{"type":"text","fontSize":13,"baseline":"middle","dy":3},"encoding":{"y":{"field":"s","type":"quantitative","axis":{"values":[20,40,60,80,100],"title":null}},"text":{"field":"t"}}},
    {"data":{"name":"brk"},"mark":{"type":"text","text":"//","fontSize":12,"fontWeight":"bold","baseline":"middle","dx":-2,"dy":6},"encoding":{"x":{"field":"c","type":"nominal","sort":"descending","bandPosition":0,"axis":null}}}]}
  ]},
  {"width":71,"height":61,"data":{"name":"bars"},"transform":[{"filter":"datum.p=='C3'"}],"encoding":{"x":{"field":"c","type":"nominal","sort":"descending","axis":{"title":null,"labelAngle":0}},"xOffset":{"field":"g","type":"nominal","sort":"descending"},"y":{"field":"v","type":"quantitative","scale":{"domain":[0,5],"nice":false},"axis":{"values":[0,1,2,3,4,5],"title":"IL-1β/18S (Fold Change)","titleX":-27,"titleY":-6}},"color":{"field":"g","type":"nominal","sort":"descending","legend":null}},"layer":[
    {"mark":{"type":"bar","clip":true}},
    {"mark":{"type":"rule","clip":true,"strokeWidth":2},"encoding":{"y2":{"field":"hi"}}},
    {"mark":{"type":"tick","clip":true,"thickness":2},"encoding":{"y":{"field":"hi","type":"quantitative","axis":{"values":[0,1,2,3,4,5],"title":"IL-1β/18S (Fold Change)","titleX":-27,"titleY":-6}},"size":{"value":6}}}]}
 ]}
],"spacing":34,"resolve":{"legend":{"color":"independent"}}}
]}
]
}
